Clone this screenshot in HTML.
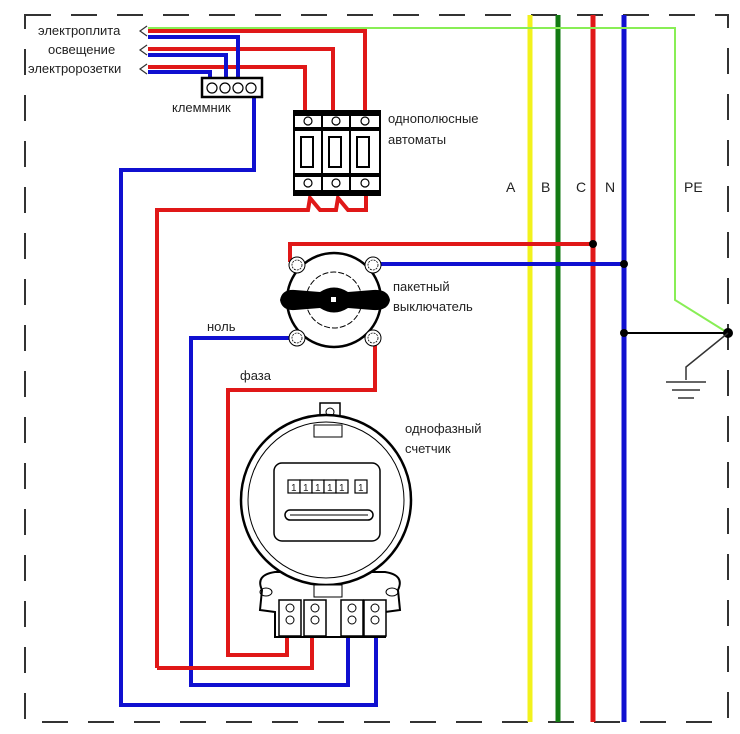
<!DOCTYPE html>
<html><head><meta charset="utf-8"><style>
body{margin:0;background:#fff}
svg{display:block}
text{font-family:"Liberation Sans",sans-serif;font-size:13px;fill:#222}
</style></head><body>
<svg width="740" height="734" viewBox="0 0 740 734" xmlns="http://www.w3.org/2000/svg">
<rect x="25" y="15" width="703" height="707" fill="none" stroke="#333" stroke-width="2" stroke-dasharray="26,20"/>
<line x1="530" y1="15" x2="530" y2="722" stroke="#f2f21c" stroke-width="5"/>
<line x1="558" y1="15" x2="558" y2="722" stroke="#137a13" stroke-width="5"/>
<line x1="593" y1="15" x2="593" y2="722" stroke="#e01818" stroke-width="5"/>
<line x1="624" y1="15" x2="624" y2="722" stroke="#1010d0" stroke-width="5"/>
<polyline points="148,28 675,28 675,300 728,333" fill="none" stroke="#88ee55" stroke-width="2"/>
<text x="506" y="192" style="font-size:14px">A</text><text x="541" y="192" style="font-size:14px">B</text><text x="576" y="192" style="font-size:14px">C</text><text x="605" y="192" style="font-size:14px">N</text><text x="684" y="192" style="font-size:14px">PE</text>
<line x1="624" y1="333" x2="728" y2="333" stroke="#000" stroke-width="2"/>
<circle cx="624" cy="333" r="4"/><circle cx="728" cy="333" r="5"/>
<polyline points="728,333 686,367 686,380" fill="none" stroke="#333" stroke-width="1.5"/>
<line x1="666" y1="382" x2="706" y2="382" stroke="#333" stroke-width="1.5"/>
<line x1="672" y1="390" x2="700" y2="390" stroke="#333" stroke-width="1.5"/>
<line x1="678" y1="398" x2="694" y2="398" stroke="#333" stroke-width="1.5"/>
<text x="38" y="35">электроплита</text>
<text x="48" y="54">освещение</text>
<text x="28" y="73">электророзетки</text>
<g fill="none" stroke="#333" stroke-width="1.2">
<polyline points="147,26 140,31 147,36"/><polyline points="147,45 140,50 147,55"/><polyline points="147,64 140,69 147,74"/>
</g>
<g fill="none" stroke-width="4">
<polyline points="148,31 365,31 365,112" stroke="#e01818"/>
<polyline points="148,49 333,49 333,112" stroke="#e01818"/>
<polyline points="148,67 305,67 305,112" stroke="#e01818"/>
<polyline points="148,37 238,37 238,80" stroke="#1010d0"/>
<polyline points="148,55 226,55 226,80" stroke="#1010d0"/>
<polyline points="148,72 210,72 210,80" stroke="#1010d0"/>
<polyline points="254,96 254,170 121,170 121,705 376,705 376,628" stroke="#1010d0"/>
<polyline points="297,338 191,338 191,685 348,685 348,628" stroke="#1010d0"/>
<polyline points="373,264 624,264" stroke="#1010d0"/>
<polyline points="290,262 290,244 593,244" stroke="#e01818"/>
<polyline points="375,340 375,390 228,390 228,655 287,655 287,628" stroke="#e01818"/>
<polyline points="157,668 157,210 308,210 310,198 320,210 336,210 338,198 348,210 366,210 366,195" stroke="#e01818"/>
<polyline points="157,668 312,668 312,628" stroke="#e01818"/>
</g>
<circle cx="593" cy="244" r="4"/><circle cx="624" cy="264" r="4"/>
<rect x="202" y="78" width="60" height="19" fill="#fff" stroke="#000" stroke-width="2.5"/>
<g fill="none" stroke="#000" stroke-width="1.2"><circle cx="212" cy="88" r="5"/><circle cx="225" cy="88" r="5"/><circle cx="238" cy="88" r="5"/><circle cx="251" cy="88" r="5"/></g>
<text x="172" y="112">клеммник</text>
<g stroke="#000" stroke-width="2">
<rect x="294" y="111" width="28" height="84" fill="#fff"/><rect x="322" y="111" width="28" height="84" fill="#fff"/><rect x="350" y="111" width="30" height="84" fill="#fff"/>
</g>
<g fill="#000"><rect x="294" y="111" width="86" height="5"/><rect x="294" y="127" width="86" height="4"/><rect x="294" y="173" width="86" height="4"/><rect x="294" y="190" width="86" height="5"/></g>
<g fill="none" stroke="#000" stroke-width="2"><rect x="301" y="137" width="12" height="30"/><rect x="329" y="137" width="12" height="30"/><rect x="357" y="137" width="12" height="30"/></g>
<g fill="none" stroke="#000" stroke-width="1.2"><circle cx="308" cy="121" r="4"/><circle cx="336" cy="121" r="4"/><circle cx="365" cy="121" r="4"/><circle cx="308" cy="183" r="4"/><circle cx="336" cy="183" r="4"/><circle cx="365" cy="183" r="4"/></g>
<text x="388" y="123">однополюсные</text><text x="388" y="144">автоматы</text>
<circle cx="334" cy="300" r="47" fill="#fff" stroke="#000" stroke-width="2.5"/>
<circle cx="334" cy="300" r="28" fill="none" stroke="#000" stroke-width="1" stroke-dasharray="6,2"/>
<path d="M280,300 Q282,289 295,290 L320,292 Q334,283 348,292 L373,290 Q388,289 390,300 Q388,311 373,310 L348,308 Q334,317 320,308 L295,310 Q282,311 280,300Z" fill="#000"/>
<rect x="331" y="297" width="5" height="5" fill="#fff"/>
<g fill="#fff" stroke="#000" stroke-width="1"><circle cx="297" cy="265" r="8"/><circle cx="373" cy="265" r="8"/><circle cx="297" cy="338" r="8"/><circle cx="373" cy="338" r="8"/></g>
<g fill="none" stroke="#000" stroke-width="0.8" stroke-dasharray="2,1"><circle cx="297" cy="265" r="5"/><circle cx="373" cy="265" r="5"/><circle cx="297" cy="338" r="5"/><circle cx="373" cy="338" r="5"/></g>
<text x="393" y="291">пакетный</text><text x="393" y="311">выключатель</text>
<text x="207" y="331">ноль</text><text x="240" y="380">фаза</text>
<rect x="320" y="403" width="20" height="20" fill="#fff" stroke="#000" stroke-width="1.5"/>
<circle cx="330" cy="412" r="4" fill="none" stroke="#000"/>
<path d="M262,590 Q255,575 275,572 L385,572 Q405,575 398,590 L400,610 L385,612 L385,637 L275,637 L275,612 L260,610Z" fill="#fff" stroke="#000" stroke-width="2"/>
<circle cx="326" cy="500" r="85" fill="#fff" stroke="#000" stroke-width="2.5"/>
<circle cx="326" cy="500" r="78" fill="none" stroke="#000" stroke-width="1"/>
<rect x="314" y="425" width="28" height="12" fill="#fff" stroke="#000"/>
<rect x="314" y="585" width="28" height="12" fill="#fff" stroke="#000"/>
<rect x="274" y="463" width="106" height="78" rx="8" fill="#fff" stroke="#000" stroke-width="1.5"/>
<g fill="#fff" stroke="#000" stroke-width="1.2">
<rect x="288" y="480" width="12" height="13"/><rect x="300" y="480" width="12" height="13"/><rect x="312" y="480" width="12" height="13"/><rect x="324" y="480" width="12" height="13"/><rect x="336" y="480" width="12" height="13"/><rect x="355" y="480" width="12" height="13"/></g>
<text x="291" y="491" style="font-size:10px">1</text><text x="303" y="491" style="font-size:10px">1</text><text x="315" y="491" style="font-size:10px">1</text><text x="327" y="491" style="font-size:10px">1</text><text x="339" y="491" style="font-size:10px">1</text><text x="358" y="491" style="font-size:10px">1</text>
<rect x="285" y="510" width="88" height="10" rx="5" fill="#fff" stroke="#000" stroke-width="1.5"/>
<line x1="290" y1="515" x2="368" y2="515" stroke="#000" stroke-width="1"/>
<g fill="#fff" stroke="#000" stroke-width="1.5">
<rect x="279" y="600" width="22" height="36"/><rect x="304" y="600" width="22" height="36"/><rect x="341" y="600" width="22" height="36"/><rect x="364" y="600" width="22" height="36"/>
</g>
<g fill="none" stroke="#000" stroke-width="1"><circle cx="290" cy="608" r="4"/><circle cx="290" cy="620" r="4"/><circle cx="315" cy="608" r="4"/><circle cx="315" cy="620" r="4"/><circle cx="352" cy="608" r="4"/><circle cx="352" cy="620" r="4"/><circle cx="375" cy="608" r="4"/><circle cx="375" cy="620" r="4"/><ellipse cx="266" cy="592" rx="6" ry="4"/><ellipse cx="392" cy="592" rx="6" ry="4"/></g>
<text x="405" y="433">однофазный</text><text x="405" y="453">счетчик</text>
</svg>
</body></html>
